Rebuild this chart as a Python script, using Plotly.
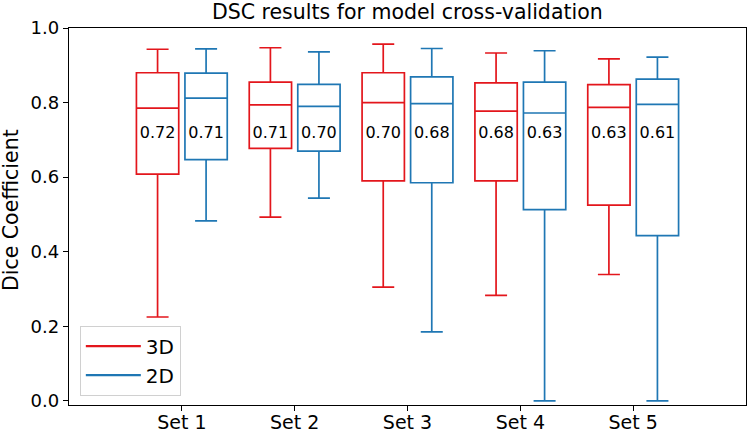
import plotly.graph_objects as go

sets = ["Set 1", "Set 2", "Set 3", "Set 4", "Set 5"]
tick_pos = [1, 2, 3, 4, 5]

# 3D model (red)
d3_lower = [0.225, 0.493, 0.305, 0.283, 0.339]
d3_q1 = [0.608, 0.677, 0.590, 0.590, 0.525]
d3_median = [0.785, 0.794, 0.800, 0.777, 0.787]
d3_q3 = [0.880, 0.855, 0.880, 0.853, 0.848]
d3_upper = [0.943, 0.947, 0.957, 0.933, 0.917]
d3_mean = [0.72, 0.71, 0.70, 0.68, 0.63]

# 2D model (blue)
d2_lower = [0.483, 0.544, 0.185, 0.0, 0.0]
d2_q1 = [0.647, 0.670, 0.585, 0.513, 0.443]
d2_median = [0.812, 0.790, 0.797, 0.772, 0.795]
d2_q3 = [0.879, 0.849, 0.869, 0.855, 0.863]
d2_upper = [0.944, 0.936, 0.945, 0.939, 0.922]
d2_mean = [0.71, 0.70, 0.68, 0.63, 0.61]

RED = "#e3161c"
BLUE = "#1f77b4"
OFF = 0.215
BW = 0.375
TEXT_Y = 0.716

x3 = [p - OFF for p in tick_pos]
x2 = [p + OFF for p in tick_pos]

fig = go.Figure()
fig.add_trace(go.Box(
    x=x3, q1=d3_q1, median=d3_median, q3=d3_q3,
    lowerfence=d3_lower, upperfence=d3_upper,
    width=BW, whiskerwidth=0.52, boxpoints=False,
    line=dict(color=RED, width=1.7), fillcolor="rgba(0,0,0,0)",
    showlegend=False, name="3D", hoverinfo="skip",
))
fig.add_trace(go.Box(
    x=x2, q1=d2_q1, median=d2_median, q3=d2_q3,
    lowerfence=d2_lower, upperfence=d2_upper,
    width=BW, whiskerwidth=0.52, boxpoints=False,
    line=dict(color=BLUE, width=1.7), fillcolor="rgba(0,0,0,0)",
    showlegend=False, name="2D", hoverinfo="skip",
))
# legend entries as lines
fig.add_trace(go.Scatter(x=[None], y=[None], mode="lines", name="3D",
                         line=dict(color=RED, width=2.2)))
fig.add_trace(go.Scatter(x=[None], y=[None], mode="lines", name="2D",
                         line=dict(color=BLUE, width=2.2)))

# mean annotations
fig.add_trace(go.Scatter(
    x=x3 + x2, y=[TEXT_Y] * 10,
    text=[f"{m:.2f}" for m in d3_mean + d2_mean],
    mode="text", textposition="middle center",
    textfont=dict(family="DejaVu Sans", size=16, color="black"),
    showlegend=False, hoverinfo="skip",
))

fig.update_layout(
    width=750, height=435,
    margin=dict(l=69, r=4, t=28, b=30),
    plot_bgcolor="white", paper_bgcolor="white",
    boxmode="overlay",
    font=dict(family="DejaVu Sans", size=18, color="black"),
    title=dict(text="DSC results for model cross-validation",
               x=0.5431, xanchor="center", y=0.972, yanchor="middle",
               font=dict(size=20.5)),
    legend=dict(x=0.016, y=0.025, xanchor="left", yanchor="bottom",
                bordercolor="#d0d0d0", borderwidth=1, bgcolor="white",
                font=dict(size=20), tracegroupgap=2, itemwidth=55),
    annotations=[dict(
        text="Dice Coefficient", textangle=-90,
        xref="paper", yref="paper", x=-0.0857, y=0.517,
        xanchor="center", yanchor="middle", showarrow=False,
        font=dict(size=20.5),
    )],
)
fig.update_xaxes(
    range=[0, 6], tickmode="array", tickvals=tick_pos, ticktext=sets,
    showgrid=False, zeroline=False, showline=True, mirror=True,
    linecolor="black", linewidth=1.3, ticks="outside", ticklen=5,
    tickwidth=1.2, tickcolor="black", tickfont=dict(size=19),
    automargin=False, ticklabelstandoff=-5,
)
fig.update_yaxes(
    range=[-0.011, 1.0], tickmode="array",
    tickvals=[0.0, 0.2, 0.4, 0.6, 0.8, 1.0],
    ticktext=["0.0", "0.2", "0.4", "0.6", "0.8", "1.0"],
    showgrid=False, zeroline=False, showline=True, mirror=True,
    linecolor="black", linewidth=1.3, ticks="outside", ticklen=5,
    tickwidth=1.2, tickcolor="black", tickfont=dict(size=18),
    automargin=False,
)

fig.write_html(
    "out.html",
    config={"displayModeBar": False},
    post_script="document.body.style.margin='0px';document.body.style.padding='0px';",
)
